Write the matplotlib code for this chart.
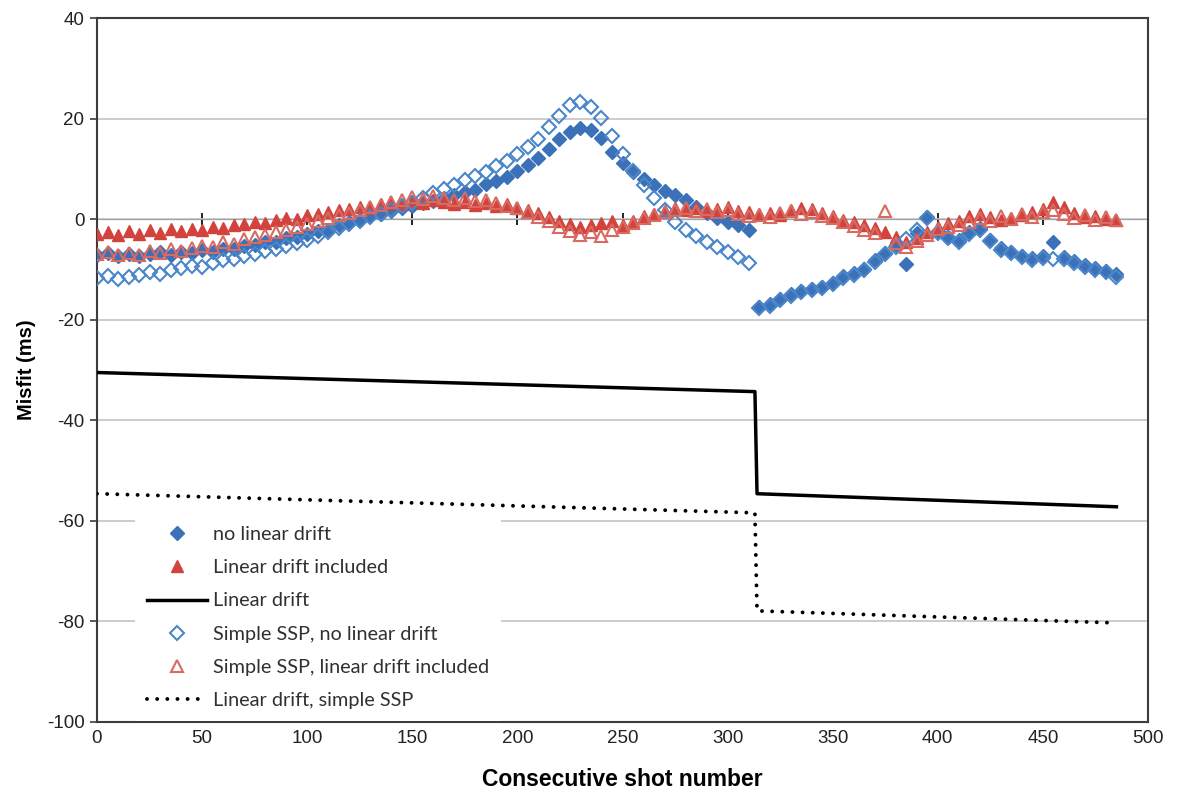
import numpy as np
import matplotlib
matplotlib.use("Agg")
import matplotlib.pyplot as plt

plt.rcParams["font.family"] = ["Liberation Sans", "DejaVu Sans"]
plt.rcParams["axes.unicode_minus"] = False

# shot index for the misfit series (every 5th shot)
shots = np.arange(0, 490, 5)

no_drift = [
    -7.2, -6.8, -7.4, -6.9, -7.3, -7.0, -6.6, -7.1, -6.5, -6.8,
    -6.2, -6.5, -5.9, -6.0, -5.4, -5.2, -4.6, -4.5, -3.8, -3.6,
    -3.0, -2.4, -2.1, -1.2, -0.6, -0.2, 0.6, 1.0, 1.6, 2.2,
    2.6, 3.2, 3.6, 4.3, 4.8, 5.3, 5.8, 6.9, 7.6, 8.4,
    9.6, 10.8, 12.2, 13.9, 16.0, 17.4, 18.2, 17.8, 16.1, 13.4,
    11.2, 9.4, 7.9, 6.8, 5.6, 4.9, 3.8, 2.4, 1.3, 0.2,
    -0.6, -1.2, -2.1, -17.4, -16.9, -15.8, -14.9, -14.2, -13.8, -13.5,
    -12.6, -11.4, -10.8, -9.9, -8.2, -6.7, -5.2, -8.9, -2.8, 0.5,
    -2.4, -3.5, -4.2, -2.6, -1.8, -4.1, -5.8, -6.5, -7.3, -7.8,
    -7.4, -4.6, -7.6, -8.4, -9.1, -9.8, -10.3, -11.0,
]

drift_incl = [
    -3.0, -2.6, -3.2, -2.4, -2.9, -2.2, -2.7, -2.0, -2.4, -1.9,
    -2.1, -1.5, -1.8, -1.1, -0.9, -0.5, -0.7, -0.1, 0.3, 0.0,
    0.8, 1.1, 1.5, 1.9, 2.1, 2.5, 2.2, 3.0, 3.3, 3.1,
    3.7, 3.2, 3.9, 3.4, 3.0, 3.5, 2.8, 3.2, 2.6, 3.0,
    2.3, 1.9, 1.2, 0.4, -0.3, -1.0, -1.6, -1.2, -0.8, -0.4,
    -1.2, -0.3, 0.6, 1.1, 1.7, 2.2, 1.8, 2.3, 1.6, 2.0,
    2.4, 1.7, 1.4, 1.0, 1.3, 0.9, 1.8, 2.3, 2.0, 1.2,
    0.6, -0.2, -0.6, -1.1, -1.8, -2.6, -3.5, -4.6, -3.8, -2.5,
    -1.5, -0.8, -0.4, 0.6, 1.1, 0.5, -0.2, 0.3, 0.8, 1.4,
    2.0, 3.4, 2.4, 1.2, 0.4, 0.7, 0.1, -0.2,
]

ssp_no_drift = [
    -11.8, -11.4, -12.0, -11.5, -11.1, -10.6, -10.9, -10.2, -9.8, -9.3,
    -9.6, -8.8, -8.2, -7.9, -7.4, -6.9, -6.4, -5.9, -5.3, -4.8,
    -4.1, -3.3, -2.6, -1.7, -1.0, -0.3, 0.4, 1.1, 1.8, 2.6,
    3.3, 4.2, 5.1, 6.0, 6.8, 7.7, 8.6, 9.4, 10.5, 11.6,
    12.9, 14.3, 15.9, 18.3, 20.6, 22.7, 23.2, 22.4, 20.1, 16.6,
    13.0, 9.6, 6.8, 4.3, 1.8, -0.6, -2.1, -3.4, -4.6, -5.6,
    -6.6, -7.6, -8.8, -17.6, -17.2, -16.1, -15.2, -14.5, -14.1, -13.7,
    -12.9, -11.7, -11.1, -10.2, -8.5, -7.0, -5.6, -4.0, -2.2, 0.2,
    -2.7, -3.8, -4.5, -2.9, -2.1, -4.4, -6.1, -6.8, -7.6, -8.1,
    -7.8, -7.9, -8.0, -8.7, -9.5, -10.1, -10.6, -11.6,
]

ssp_drift_incl = [
    -7.0, -6.6, -7.2, -6.8, -7.1, -6.3, -6.7, -6.0, -6.4, -5.7,
    -5.3, -5.6, -4.6, -4.9, -4.0, -3.5, -3.1, -2.6, -2.1, -1.5,
    -1.0, -0.3, 0.2, 0.8, 1.3, 1.9, 2.4, 2.8, 3.4, 3.9,
    4.4, 4.0, 4.6, 4.2, 3.8, 4.3, 3.6, 3.9, 3.2, 2.7,
    2.2, 1.4, 0.5, -0.4, -1.5, -2.4, -3.1, -2.6, -3.4, -2.2,
    -1.6, -0.7, 0.2, 0.9, 1.5, 1.9, 2.3, 1.7, 2.0, 1.4,
    1.8, 1.1, 0.6, 0.9, 0.4, 1.2, 1.6, 1.0, 1.4, 0.7,
    0.2, -0.5, -1.3, -2.2, -2.8, 1.6, -4.8, -5.6, -4.4, -3.2,
    -2.0, -1.6, -1.1, -0.5, 0.2, -0.4, 0.6, 0.1, 1.0, 0.4,
    1.5, 1.9, 1.1, 0.3, 0.8, -0.1, 0.4, -0.1,
]

# piecewise linear drift estimates (step after shot 313)
drift_shots = [0, 313, 314, 485]
drift = [-30.5, -34.3, -54.6, -57.2]
drift_ssp = [-54.6, -58.4, -77.9, -80.3]

BLUE = "#3b71b8"
RED = "#d2433d"
BLUE_OPEN = "#4a86c9"
RED_OPEN = "#d86a62"

fig = plt.figure(figsize=(11.84, 7.92), dpi=100)
ax = fig.add_axes([97 / 1184, 1 - 722 / 792, (1148 - 97) / 1184, (722 - 18) / 792])

ax.plot(shots, no_drift, ls="none", marker="D", ms=7.5, color=BLUE,
        mec=BLUE, label="no linear drift", zorder=3)
ax.plot(shots, drift_incl, ls="none", marker="^", ms=8.5, color=RED,
        mec=RED, label="Linear drift included", zorder=3)
ax.plot(drift_shots, drift, color="black", lw=2.5, label="Linear drift", zorder=3)
ax.plot(shots, ssp_no_drift, ls="none", marker="D", ms=7.5, mfc="none",
        mec=BLUE_OPEN, mew=1.5, label="Simple SSP, no linear drift", zorder=3)
ax.plot(shots, ssp_drift_incl, ls="none", marker="^", ms=8.5, mfc="none",
        mec=RED_OPEN, mew=1.5, label="Simple SSP, linear drift included", zorder=3)
ax.plot(drift_shots, drift_ssp, color="black", lw=2.8,
        linestyle=(0, (0.01, 2.6)), dash_capstyle="round",
        label="Linear drift, simple SSP", zorder=3)

ax.set_xlim(0, 500)
ax.set_ylim(-100, 40)
ax.set_xticks(np.arange(0, 501, 50))
ax.set_yticks(np.arange(-100, 41, 20))

ax.grid(axis="y", color="#c4c4c4", lw=1.2, zorder=0)
ax.set_axisbelow(True)
for s in ax.spines.values():
    s.set_color("#3c3c3c")
    s.set_linewidth(1.5)

ax.tick_params(axis="y", direction="out", length=5, width=1.2, color="#3c3c3c",
               labelsize=13.5, labelcolor="#222222", pad=4)
ax.tick_params(axis="x", length=0, labelsize=13.5, labelcolor="#222222", pad=6)

# horizontal axis crossing at zero misfit
zero_ax = ax.secondary_xaxis(100 / 140)
zero_ax.set_xticks(np.arange(0, 501, 50))
zero_ax.tick_params(direction="inout", length=8, width=1.2, labelbottom=False,
                    labeltop=False, color="black")
zero_ax.spines["bottom"].set_color("black")
zero_ax.spines["bottom"].set_linewidth(1.3)

ax.set_xlabel("Consecutive shot number", fontsize=16.5, fontweight="bold",
              labelpad=15)
ax.set_ylabel("Misfit (ms)", fontsize=14.5, fontweight="bold", labelpad=8)

leg = ax.legend(loc="upper left", bbox_to_anchor=(135 / 1184, 1 - 514 / 792),
                bbox_transform=fig.transFigure, frameon=True, fancybox=False,
                edgecolor="none", facecolor="white", framealpha=1.0,
                handlelength=3.0, handletextpad=0.35, labelspacing=0.82,
                borderpad=0.6, borderaxespad=0,
                prop={"family": "Lato", "size": 14.3})
leg.set_zorder(5)
for t in leg.get_texts():
    t.set_color("#303030")

fig.savefig("out.png", dpi=100)
